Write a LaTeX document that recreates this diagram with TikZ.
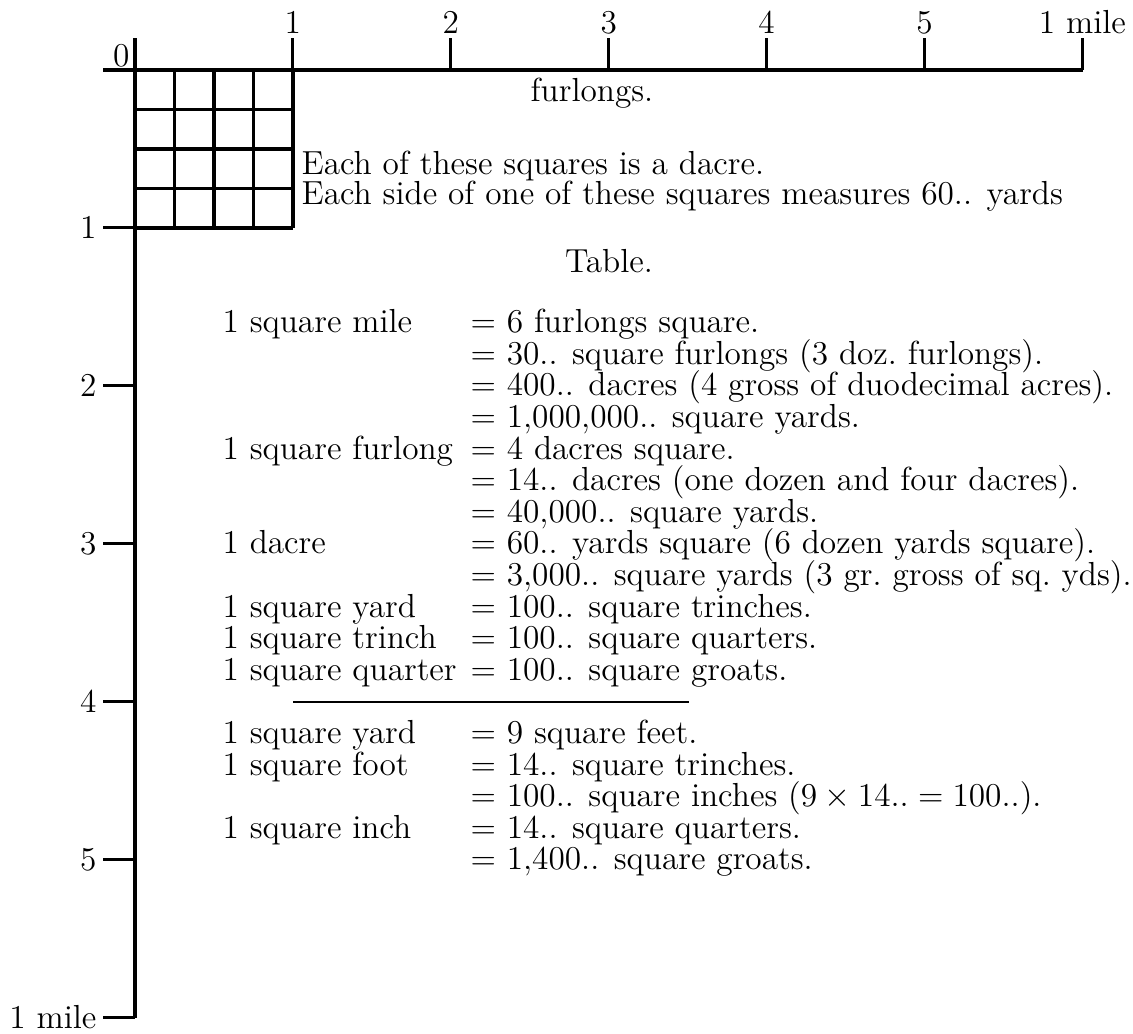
\documentclass[tikz,border=0pt]{standalone}
\begin{document}
\begin{tikzpicture}[x=0.36pt,y=-0.36pt,
  ln/.style={line width=1.1pt},
  lbl/.style={inner sep=0pt, font=\fontsize{12}{14}\selectfont},
  lt/.style={lbl, anchor=base west},
  rt/.style={lbl, anchor=base west}]
\useasboundingbox (0,0) rectangle (1133,1034);
% axes
\coordinate (hx0) at (103,70);
\coordinate (hx1) at (1083,70);
\coordinate (vy0) at (135,38);
\coordinate (vy1) at (135,1018);
\draw[ln] (hx0) -- (hx1);
\draw[ln] (vy0) -- (vy1);
% top ticks
\foreach \k/\t [count=\i] in {1/1,2/2,3/3,4/4,5/5,6/1 mile}{
  \coordinate (tb\i) at ({135+157.9*\k},70);
  \coordinate (tt\i) at ({135+157.9*\k},38);
  \draw[ln] (tb\i) -- (tt\i);
  \node[lbl, anchor=base] (tl\i) at ({135+157.9*\k},33) {\t};
}
% left ticks
\foreach \k/\t [count=\i] in {1/1,2/2,3/3,4/4,5/5,6/1 mile}{
  \coordinate (lb\i) at (135,{70+157.9*\k});
  \coordinate (la\i) at (103,{70+157.9*\k});
  \draw[ln] (la\i) -- (lb\i);
  \node[lbl, anchor=east] (ll\i) at (97,{70+157.9*\k}) {\t};
}
\node[lbl, anchor=base east] (zero) at (130,66.7) {0};
% grid
\foreach \j in {1,2,3,4}{
  \draw[ln] ({135+39.5*\j},70) -- ({135+39.5*\j},228);
  \draw[ln] (135,{70+39.5*\j}) -- (293,{70+39.5*\j});
}
\node[lbl, anchor=base] (furl) at (592,102) {furlongs.};
\node[lt] (e1) at (301,174) {Each of these squares is a dacre.};
\node[lt] (e2) at (301,204) {Each side of one of these squares measures 60.. yards};
\node[lbl, anchor=base] (tab) at (609,272) {Table.};
% table rows
\def\rb{332.7}
\def\rs{31.6}
\node[lt] (a0) at (222,{\rb+0*\rs}) {1 square mile};
\node[rt] (b0) at (470,{\rb+0*\rs}) {$=$ 6 furlongs square.};
\node[rt] (b1) at (470,{\rb+1*\rs}) {$=$ 30.. square furlongs (3 doz.\ furlongs).};
\node[rt] (b2) at (470,{\rb+2*\rs}) {$=$ 400.. dacres (4 gross of duodecimal acres).};
\node[rt] (b3) at (470,{\rb+3*\rs}) {$=$ 1,000,000.. square yards.};
\node[lt] (a4) at (222,{\rb+4*\rs}) {1 square furlong};
\node[rt] (b4) at (470,{\rb+4*\rs}) {$=$ 4 dacres square.};
\node[rt] (b5) at (470,{\rb+5*\rs}) {$=$ 14.. dacres (one dozen and four dacres).};
\node[rt] (b6) at (470,{\rb+6*\rs}) {$=$ 40,000.. square yards.};
\node[lt] (a7) at (222,{\rb+7*\rs}) {1 dacre};
\node[rt] (b7) at (470,{\rb+7*\rs}) {$=$ 60.. yards square (6 dozen yards square).};
\node[rt] (b8) at (470,{\rb+8*\rs}) {$=$ 3,000.. square yards (3 gr.\ gross of sq.\ yds).};
\node[lt] (a9) at (222,{\rb+9*\rs}) {1 square yard};
\node[rt] (b9) at (470,{\rb+9*\rs}) {$=$ 100.. square trinches.};
\node[lt] (a10) at (222,{\rb+10*\rs}) {1 square trinch};
\node[rt] (b10) at (470,{\rb+10*\rs}) {$=$ 100.. square quarters.};
\node[lt] (a11) at (222,{\rb+11*\rs}) {1 square quarter};
\node[rt] (b11) at (470,{\rb+11*\rs}) {$=$ 100.. square groats.};
\coordinate (r0) at (293,702);
\coordinate (r1) at (689,702);
\draw[line width=0.75pt] (r0) -- (r1);
\node[lt] (a13) at (222,{\rb+13*\rs}) {1 square yard};
\node[rt] (b13) at (470,{\rb+13*\rs}) {$=$ 9 square feet.};
\node[lt] (a14) at (222,{\rb+14*\rs}) {1 square foot};
\node[rt] (b14) at (470,{\rb+14*\rs}) {$=$ 14.. square trinches.};
\node[rt] (b15) at (470,{\rb+15*\rs}) {$=$ 100.. square inches ($9\times14..=100..$).};
\node[lt] (a16) at (222,{\rb+16*\rs}) {1 square inch};
\node[rt] (b16) at (470,{\rb+16*\rs}) {$=$ 14.. square quarters.};
\node[rt] (b17) at (470,{\rb+17*\rs}) {$=$ 1,400.. square groats.};
\end{tikzpicture}
\end{document}
